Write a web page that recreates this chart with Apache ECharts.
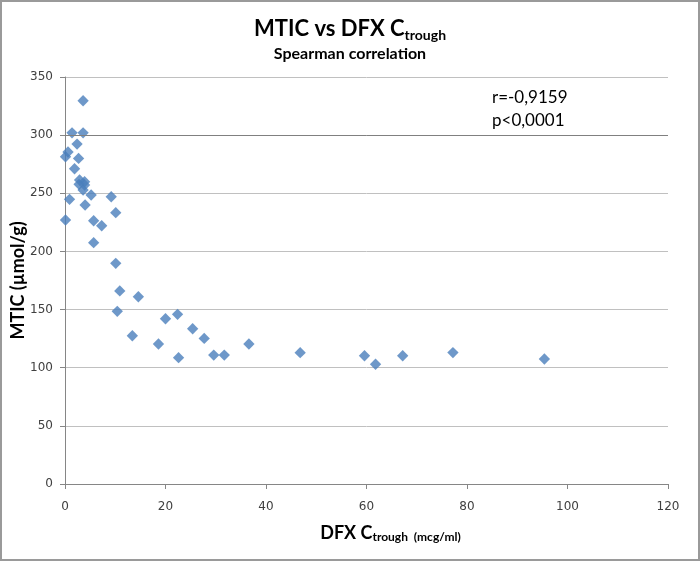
<!DOCTYPE html>
<html>
<head>
<meta charset="utf-8">
<script src="https://cdn.jsdelivr.net/npm/echarts@6/dist/echarts.min.js"></script>
<style>
    html, body { margin: 0; padding: 0; background: #fff; }
    #main { width: 700px; height: 561px; box-sizing: border-box; border: 2px solid #9a9a9a; }
</style>
</head>
<body>
<div id="main"></div>
<script>
//DFX Ctrough (mcg/ml)
let dfxTrough = [3.6, 1.4, 3.6, 2.4, 0.6, 0.1, 2.7, 1.9, 2.9, 3.9, 2.8, 3.9, 3.6, 5.2, 9.2, 0.9, 4.0, 10.1, 0.1, 5.7, 7.3, 5.7, 10.1,
    10.9, 10.4, 14.6, 13.4, 18.6, 20.0, 22.4, 22.6, 25.4, 27.7, 29.6, 31.7, 36.6,
    46.8, 59.6, 61.8, 67.2, 77.2, 95.4]
//MTIC (µmol/g)
let mtic = [329.6, 302, 302, 292.3, 285.5, 281.4, 280, 271.1, 261.4, 259.9, 257.7, 257.1, 252.8, 248.5, 247, 244.8, 239.9, 233.3, 227, 226.4, 222.1, 207.5, 189.8,
    166, 148.5, 161, 127.5, 120.4, 142.1, 145.9, 108.6, 133.5, 125.2, 110.9, 110.9, 120.4,
    112.9, 110.3, 103, 110.3, 113, 107.5]
//刻度
let xTicks = [0, 20, 40, 60, 80, 100, 120]
let yTicks = [0, 50, 100, 150, 200, 250, 300, 350]

let points = dfxTrough.map((x, i) => [x, mtic[i]])

let myChart = echarts.init(document.getElementById('main'))
let option = {
    animation: false,
    title: [
        {
            text: '{a|MTIC vs DFX C}{b|trough}',
            left: 'center',
            top: 9,
            textStyle: {
                rich: {
                    a: { fontFamily: 'Lato', fontSize: 22, fontWeight: 'bold', color: '#000', lineHeight: 26 },
                    b: { fontFamily: 'Lato', fontSize: 14, fontWeight: 'bold', color: '#000', verticalAlign: 'bottom', padding: [8, 0, 0, 0] }
                }
            },
            subtext: 'Spearman correlation',
            itemGap: 6,
            subtextStyle: { fontFamily: 'Lato', fontSize: 16, fontWeight: 'bold', color: '#000' }
        },
        {
            text: 'r=-0,9159\np<0,0001',
            left: 485,
            top: 79,
            textStyle: { fontFamily: 'Lato', fontSize: 17, fontWeight: 'normal', color: '#000', lineHeight: 23 }
        }
    ],
    grid: { left: 63, right: 30, top: 75, bottom: 75, outerBoundsMode: 'none' },
    xAxis: {
        type: 'value',
        min: xTicks[0],
        max: xTicks[xTicks.length - 1],
        interval: 20,
        name: '{a|DFX C}{b|trough}{c|  (mcg/ml)}',
        nameLocation: 'middle',
        nameGap: 39,
        nameMoveOverlap: false,
        nameTextStyle: {
            padding: [0, 0, 0, 48],
            rich: {
                a: { fontFamily: 'Lato', fontSize: 18, fontWeight: 'bold', color: '#000' },
                b: { fontFamily: 'Lato', fontSize: 12, fontWeight: 'bold', color: '#000', verticalAlign: 'bottom', padding: [8, 0, 0, 0] },
                c: { fontFamily: 'Lato', fontSize: 12, fontWeight: 'bold', color: '#000', verticalAlign: 'bottom', padding: [6, 0, 0, 0] }
            }
        },
        axisLine: { show: true, onZero: false, lineStyle: { color: '#868686', width: 1 } },
        axisTick: { show: true, length: 5, lineStyle: { color: '#868686' } },
        axisLabel: { fontFamily: 'DejaVu Sans', fontSize: 12, color: '#404040', margin: 17 },
        splitLine: { show: false }
    },
    yAxis: {
        type: 'value',
        min: yTicks[0],
        max: yTicks[yTicks.length - 1],
        interval: 50,
        name: 'MTIC (µmol/g)',
        nameLocation: 'middle',
        nameGap: 38,
        nameMoveOverlap: false,
        nameTextStyle: { fontFamily: 'Lato', fontSize: 18, fontWeight: 'bold', color: '#000' },
        axisLine: { show: true, lineStyle: { color: '#868686', width: 1 } },
        axisTick: { show: true, length: 5, lineStyle: { color: '#868686' } },
        axisLabel: { fontFamily: 'DejaVu Sans', fontSize: 12, color: '#404040', margin: 12 },
        splitLine: { show: true, lineStyle: { color: '#c0c0c0', width: 1 } }
    },
    series: [
        {
            name: 'MTIC',
            type: 'scatter',
            data: points,
            symbol: 'rect',
            symbolSize: 8,
            symbolRotate: 45,
            itemStyle: { color: '#4a7ebb' },
            markLine: {
                silent: true,
                symbol: 'none',
                label: { show: false },
                lineStyle: { color: '#808080', type: 'solid', width: 1 },
                data: [{ yAxis: 300 }]
            }
        }
    ]
}
myChart.setOption(option)
</script>
</body>
</html>
